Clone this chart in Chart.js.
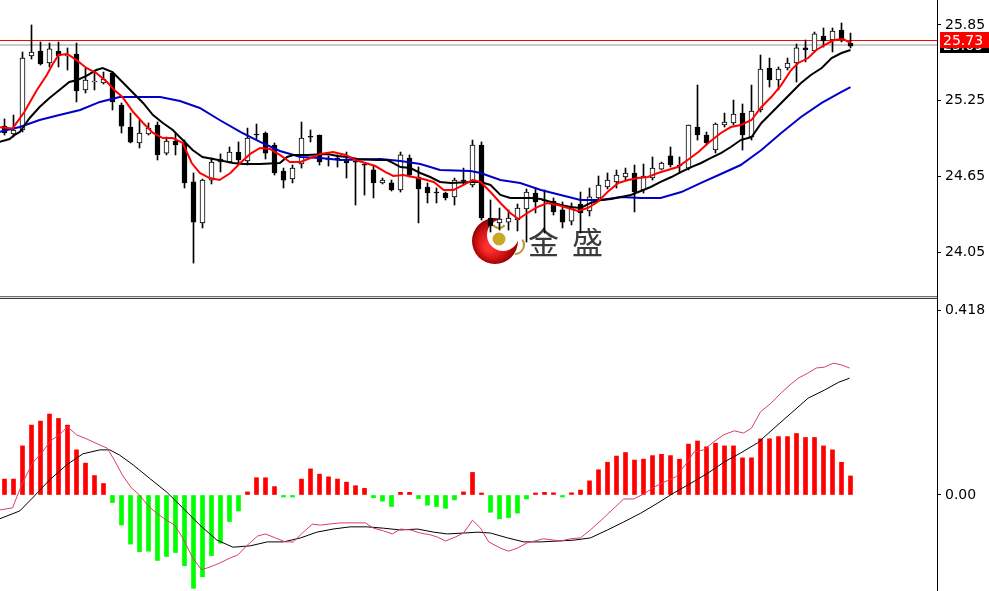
<!DOCTYPE html>
<html>
<head>
<meta charset="utf-8">
<script src="https://cdn.jsdelivr.net/npm/chart.js@4"></script>
<style>
  html, body { margin: 0; padding: 0; background: #fff; }
  #wrap { position: relative; width: 989px; height: 591px; overflow: hidden; background: #fff; }
  #priceCanvas { position: absolute; left: 0; top: 0; }
  #macdCanvas { position: absolute; left: 0; top: 299px; }
  #sep { position: absolute; left: 0; top: 296px; width: 937px; height: 3px; background: #d8d8d8; border-top: 1px solid #707070; border-bottom: 1px solid #404040; box-sizing: border-box; }
  #vline { position: absolute; left: 937px; top: 0; width: 1px; height: 591px; background: #000; }
</style>
</head>
<body>
<div id="wrap">
  <canvas id="priceCanvas" width="989" height="296"></canvas>
  <div id="sep"></div>
  <canvas id="macdCanvas" width="989" height="292"></canvas>
  <div id="vline"></div>
</div>
<script>
// --------------------
// Candles
// --------------------
const opens = [25.049,24.986,25.018,25.604,25.644,25.549,25.644,25.604,25.620,25.335,
  25.398,25.390,25.469,25.216,25.041,24.915,24.986,25.057,24.835,24.930,
  24.915,24.606,24.281,24.621,24.764,24.764,24.843,24.772,24.986,24.994,
  24.899,24.693,24.629,24.748,24.962,24.978,24.780,24.788,24.780,24.764,
  24.740,24.701,24.598,24.598,24.542,24.796,24.645,24.566,24.526,24.518,
  24.487,24.621,24.582,24.899,24.320,24.281,24.288,24.304,24.392,24.518,
  24.463,24.455,24.384,24.296,24.431,24.376,24.479,24.566,24.606,24.645,
  24.677,24.542,24.637,24.708,24.812,24.740,24.716,25.041,24.978,24.859,
  25.057,25.073,25.152,24.962,25.176,25.509,25.414,25.509,25.549,25.668,
  25.644,25.763,25.731,25.810,25.707];
const highs = [25.105,25.136,25.636,25.850,25.715,25.707,25.715,25.668,25.707,25.509,
  25.469,25.477,25.477,25.232,25.152,25.097,25.073,25.081,24.962,24.994,
  24.938,24.677,24.629,24.796,24.828,24.883,24.923,25.033,25.065,25.002,
  24.915,24.716,24.740,25.081,25.018,24.978,24.812,24.820,24.843,24.780,
  24.756,24.740,24.637,24.621,24.843,24.820,24.725,24.598,24.558,24.526,
  24.637,24.716,24.938,24.923,24.463,24.399,24.384,24.431,24.550,24.558,
  24.542,24.479,24.447,24.439,24.526,24.558,24.653,24.677,24.701,24.716,
  24.740,24.748,24.804,24.764,24.883,24.804,25.057,25.374,25.002,25.073,
  25.152,25.255,25.224,25.374,25.612,25.588,25.517,25.588,25.699,25.731,
  25.794,25.826,25.826,25.866,25.786];
const lows = [24.978,24.962,25.002,25.580,25.533,25.517,25.517,25.493,25.240,25.311,
  25.335,25.382,25.176,24.994,24.915,24.875,24.978,24.780,24.820,24.820,
  24.558,23.963,24.241,24.590,24.685,24.756,24.748,24.740,24.946,24.788,
  24.661,24.558,24.598,24.716,24.923,24.740,24.732,24.724,24.637,24.423,
  24.502,24.479,24.590,24.534,24.526,24.645,24.281,24.439,24.439,24.463,
  24.423,24.582,24.566,24.304,24.209,24.225,24.225,24.217,24.130,24.360,
  24.201,24.344,24.241,24.265,24.201,24.336,24.463,24.550,24.558,24.621,
  24.368,24.518,24.621,24.701,24.724,24.677,24.701,24.938,24.899,24.835,
  25.041,25.057,24.859,24.938,25.160,25.358,25.335,25.493,25.398,25.557,
  25.636,25.675,25.636,25.715,25.668];
const closes = [24.994,25.018,25.588,25.636,25.541,25.660,25.604,25.612,25.327,25.414,
  25.406,25.422,25.240,25.049,24.922,24.994,25.033,24.820,24.930,24.899,
  24.598,24.288,24.621,24.764,24.788,24.843,24.780,24.954,24.978,24.835,
  24.677,24.621,24.716,24.954,24.960,24.764,24.782,24.786,24.756,24.762,
  24.738,24.598,24.621,24.542,24.820,24.661,24.550,24.518,24.518,24.479,
  24.621,24.613,24.899,24.320,24.257,24.312,24.320,24.399,24.526,24.447,
  24.455,24.368,24.288,24.407,24.360,24.487,24.582,24.621,24.661,24.677,
  24.526,24.653,24.716,24.756,24.740,24.732,25.057,24.978,24.915,25.065,
  25.081,25.144,24.978,25.168,25.501,25.414,25.501,25.549,25.668,25.652,
  25.779,25.723,25.802,25.731,25.683];

// moving averages as [bar index, price]
const maRed = [[-0.56,25.04],[0.9,25.03],[1.3,25.07],[2.2,25.16],[3.6,25.335],[4.7,25.454],[5.3,25.533],[6,25.612],[7,25.62],[8,25.572],
  [9.1,25.509],[10.2,25.469],[11.4,25.398],[12.2,25.335],[13.1,25.279],[14.3,25.16],[15.4,25.073],[16.5,24.994],[17.6,24.954],[18.7,24.954],
  [19.8,24.915],[20.8,24.756],[21.7,24.677],[22.8,24.637],[23.9,24.621],[25.1,24.677],[26.2,24.756],[27.3,24.828],[28.4,24.875],[29.5,24.867],
  [30.6,24.82],[31.7,24.764],[32.9,24.764],[34,24.796],[35.1,24.828],[36.5,24.843],[37.9,24.82],[39,24.78],[40.1,24.756],[41.2,24.732],
  [42.3,24.685],[43.2,24.653],[44.3,24.661],[45.4,24.645],[46.5,24.629],[47.7,24.606],[48.8,24.542],[49.9,24.542],[51,24.582],[52,24.621],
  [52.9,24.606],[54,24.526],[55.1,24.439],[56.2,24.36],[57.1,24.312],[58.1,24.36],[59.2,24.407],[60.3,24.439],[61.5,24.423],[62.6,24.399],
  [63.7,24.376],[64.8,24.399],[65.9,24.447],[67,24.526],[68.2,24.598],[69.3,24.621],[70.4,24.637],[71.5,24.645],[72.6,24.677],[73.7,24.70],
  [74.8,24.724],[75.9,24.78],[77.1,24.843],[78.2,24.915],[79.6,24.994],[80.7,25.041],[81.8,25.057],[83,25.097],[84.1,25.2],[85.2,25.279],
  [86.3,25.374],[87.4,25.493],[88.2,25.549],[89.3,25.588],[90.2,25.652],[91.1,25.691],[92.2,25.731],[93.2,25.739],[94,25.707]];
const maBlack = [[-0.56,24.923],[0.56,24.946],[1.1,24.978],[1.7,25.002],[2.8,25.113],[3.9,25.2],[5,25.271],[6.1,25.335],[7.2,25.398],[8.1,25.414],
  [9.1,25.446],[10.2,25.493],[10.9,25.509],[12,25.477],[13.1,25.398],[14.3,25.311],[15.4,25.232],[16.5,25.136],[17.6,25.073],[18.7,25.018],
  [19.8,24.938],[20.9,24.859],[22,24.804],[23.2,24.788],[24.3,24.772],[25.4,24.756],[26.5,24.748],[28.4,24.748],[30.6,24.756],[31.4,24.804],
  [32.1,24.82],[33.6,24.82],[35.9,24.828],[37,24.812],[38.1,24.804],[39.2,24.788],[41.4,24.78],[42.5,24.78],[43.2,24.756],[44,24.724],
  [45.1,24.716],[46.2,24.677],[47.3,24.645],[48.4,24.606],[49.6,24.598],[51.8,24.606],[52.9,24.606],[54,24.582],[55.1,24.503],[56.2,24.479],
  [58.5,24.479],[59.6,24.471],[60.7,24.447],[61.8,24.423],[62.9,24.407],[64,24.399],[65.1,24.439],[66.3,24.463],[67.4,24.471],[68.5,24.487],
  [69.6,24.503],[70.7,24.534],[71.8,24.566],[72.9,24.606],[74.1,24.645],[75.2,24.685],[76.3,24.724],[77.4,24.756],[78.5,24.796],[79.6,24.835],
  [80.7,24.883],[81.8,24.938],[83,24.962],[84.1,25.073],[85.2,25.152],[86.3,25.232],[87.4,25.311],[88.5,25.39],[89.6,25.454],[90.8,25.509],
  [91.9,25.588],[93,25.628],[94,25.652]];
const maBlue = [[-0.56,25.002],[1.7,25.041],[3.9,25.097],[6.1,25.136],[8.4,25.176],[10.6,25.24],[12.8,25.279],[17.3,25.279],[19.5,25.247],[21.7,25.192],
  [23.9,25.097],[26.2,25.002],[28.4,24.923],[30.6,24.851],[32.9,24.804],[35.1,24.796],[37.3,24.78],[41.8,24.788],[44,24.772],[46.2,24.748],
  [48.4,24.70],[51.8,24.693],[52.9,24.677],[55.1,24.621],[57.3,24.598],[59.6,24.542],[61.8,24.503],[64,24.463],[66.3,24.463],[68.5,24.487],
  [70.7,24.479],[72.9,24.479],[75.2,24.526],[77.4,24.598],[79.6,24.669],[81.8,24.74],[84.1,24.859],[86.3,24.994],[88.5,25.121],[90.8,25.232],
  [93,25.319],[94,25.358]];

const priceTicks = [24.05, 24.65, 25.25, 25.85];
const lastPrice = 25.73;
const askPrice = 25.69;

// --------------------
// MACD panel
// --------------------
const macdHist = [0.036,0.036,0.111,0.158,0.167,0.183,0.173,0.158,0.102,0.072,
  0.044,0.026,-0.017,-0.068,-0.111,-0.128,-0.127,-0.148,-0.139,-0.130,
  -0.160,-0.211,-0.185,-0.137,-0.109,-0.060,-0.036,0.007,0.039,0.039,
  0.019,-0.002,-0.002,0.036,0.059,0.047,0.041,0.036,0.029,0.021,
  0.015,-0.006,-0.014,-0.026,0.006,0.006,-0.008,-0.023,-0.026,-0.030,
  -0.011,0.007,0.051,0.004,-0.039,-0.054,-0.051,-0.041,-0.009,0.004,
  0.006,0.005,-0.003,0.005,0.011,0.032,0.057,0.074,0.088,0.096,
  0.079,0.081,0.089,0.092,0.089,0.081,0.115,0.122,0.109,0.117,
  0.111,0.111,0.084,0.084,0.127,0.127,0.132,0.132,0.139,0.130,
  0.130,0.111,0.102,0.074,0.043];
const macdMain = [[-0.56,-0.034],[0.9,-0.029],[1.45,0],[2,0.027],[3.1,0.072],[4.2,0.097],[5.2,0.124],[6.1,0.136],[7,0.154],[8,0.136],
  [9.1,0.127],[10.6,0.113],[11.4,0.106],[12.2,0.079],[13.1,0.045],[14.1,0.016],[15,0],[15.9,-0.023],[16.9,-0.041],[18,-0.057],
  [18.9,-0.068],[19.8,-0.097],[20.9,-0.142],[21.9,-0.169],[22.8,-0.163],[23.9,-0.154],[25.1,-0.142],[25.9,-0.136],[26.9,-0.115],[28.1,-0.093],
  [29,-0.088],[30.1,-0.097],[31.2,-0.106],[32.1,-0.106],[33.1,-0.086],[34.2,-0.066],[35.1,-0.068],[37.3,-0.063],[40.1,-0.063],[41,-0.075],
  [42.1,-0.081],[43.1,-0.088],[44,-0.077],[45.1,-0.079],[46.2,-0.086],[47.3,-0.09],[48.1,-0.095],[49,-0.104],[50.1,-0.095],[51,-0.086],
  [52,-0.057],[52.9,-0.075],[53.8,-0.106],[55.1,-0.12],[56,-0.127],[57,-0.12],[58.1,-0.108],[59.9,-0.099],[61.8,-0.104],[62.9,-0.099],
  [64,-0.097],[65.1,-0.079],[66.3,-0.057],[67.4,-0.036],[68.8,-0.009],[69.9,-0.009],[71,0.002],[72.2,0.018],[73.3,0.029],[74.6,0.041],
  [75.9,0.075],[76.6,0.097],[77.7,0.102],[78.8,0.12],[79.9,0.136],[81.1,0.145],[82.1,0.14],[83,0.151],[84,0.188],[85.2,0.208],
  [86.3,0.231],[87.4,0.251],[88.2,0.264],[89.3,0.276],[90.2,0.287],[91.1,0.289],[92.1,0.298],[93,0.294],[93.9,0.287]];
const macdSignal = [[-0.56,-0.054],[1.7,-0.036],[3.1,-0.007],[5,0.034],[6.9,0.068],[8.7,0.093],[10.6,0.102],[11.7,0.102],[12.8,0.09],[14.3,0.068],
  [16.1,0.038],[18,0.007],[19.8,-0.029],[21.7,-0.068],[23.6,-0.102],[25.4,-0.118],[27.3,-0.115],[29.2,-0.106],[31,-0.106],[32.9,-0.097],
  [34.7,-0.084],[36.5,-0.077],[38.4,-0.072],[40.3,-0.072],[42.1,-0.075],[44,-0.079],[45.9,-0.077],[47.7,-0.084],[49.2,-0.088],[51,-0.086],
  [52.6,-0.084],[54,-0.086],[55.9,-0.097],[57.7,-0.106],[59.6,-0.106],[61.5,-0.104],[63.3,-0.102],[65.1,-0.097],[67,-0.079],[68.8,-0.061],
  [70.7,-0.041],[72.6,-0.018],[74.4,0.005],[76.3,0.027],[78.2,0.05],[80,0.075],[81.8,0.095],[83.7,0.118],[85.5,0.151],[87.4,0.185],
  [89.3,0.219],[91.1,0.237],[92.7,0.255],[93.9,0.264]];
const macdTicks = [0, 0.418];

// --------------------
// Shared layout
// --------------------
const X_MIN = -0.5;
const X_MAX = -0.5 + 937 / 9;
const AXIS_W = 52;
const FONT = { family: 'DejaVu Sans', size: 14 };

const toXY = pairs => pairs.map(([x, y]) => ({ x, y }));

function rightAxis(min, max, ticks, fmt) {
  return {
    position: 'right', min, max,
    afterBuildTicks: axis => { axis.ticks = ticks.map(v => ({ value: v })); },
    afterFit: axis => {
      axis.width = AXIS_W;
      // no extra room for half labels: the plot must fill the panel
      axis.paddingTop = 0;
      axis.paddingBottom = 0;
    },
    border: { display: false },
    grid: { display: true, drawOnChartArea: false, drawTicks: true, tickLength: 4, color: '#000' },
    ticks: { autoSkip: false, padding: 4, color: '#000', font: FONT, callback: fmt }
  };
}

const xAxis = { type: 'linear', min: X_MIN, max: X_MAX, offset: false, display: false, grid: { offset: false } };

// --------------------
// Plugins: price lines, price label, watermark
// --------------------
const priceLines = {
  id: 'priceLines',
  beforeDatasetsDraw(chart) {
    const { ctx, chartArea } = chart;
    const y = chart.scales.y;
    // watermark logo
    ctx.save();
    const cx = 495, cy = 241;
    const g = ctx.createRadialGradient(cx - 6, cy + 6, 4, cx, cy, 24);
    g.addColorStop(0, '#ff3030');
    g.addColorStop(0.6, '#d01010');
    g.addColorStop(1, '#8a0000');
    ctx.fillStyle = g;
    ctx.beginPath(); ctx.arc(cx, cy, 23, 0, Math.PI * 2); ctx.fill();
    ctx.fillStyle = '#fff';
    ctx.beginPath(); ctx.arc(cx + 8, cy - 6, 16, 0, Math.PI * 2); ctx.fill();
    ctx.fillStyle = '#c9a824';
    ctx.beginPath(); ctx.arc(cx + 4, cy - 2, 6.5, 0, Math.PI * 2); ctx.fill();
    ctx.strokeStyle = '#b89830'; ctx.lineWidth = 2;
    ctx.beginPath(); ctx.arc(cx + 4, cy - 20, 7, 0.2 * Math.PI, 0.8 * Math.PI); ctx.stroke();
    ctx.beginPath(); ctx.arc(cx + 20, cy + 4, 9, -0.2 * Math.PI, 0.5 * Math.PI); ctx.stroke();
    ctx.fillStyle = '#3a3a3a';
    ctx.font = '31px "Noto Sans CJK SC"';
    ctx.textBaseline = 'middle';
    ctx.fillText('金', 528, 242);
    ctx.fillText('盛', 572, 242);
    ctx.restore();

    // horizontal price lines
    ctx.save();
    const ya = Math.round(y.getPixelForValue(askPrice));
    ctx.fillStyle = '#c8c8c8';
    ctx.fillRect(chartArea.left, ya - 1, chartArea.right - chartArea.left, 2);
    const yl = Math.round(y.getPixelForValue(lastPrice));
    ctx.fillStyle = '#ff0000';
    ctx.fillRect(chartArea.left, yl, chartArea.right - chartArea.left, 1);
    ctx.restore();
  },
  afterDraw(chart) {
    const { ctx, chartArea } = chart;
    const y = chart.scales.y;
    const x0 = chartArea.right + 3;
    ctx.save();
    ctx.font = '14px "DejaVu Sans"';
    ctx.textBaseline = 'middle';
    const ya = Math.round(y.getPixelForValue(askPrice));
    ctx.fillStyle = '#000';
    ctx.fillRect(x0, ya - 8, 989 - x0, 16);
    ctx.fillStyle = '#fff';
    ctx.fillText(askPrice.toFixed(2), x0 + 3, ya + 1);
    const yl = Math.round(y.getPixelForValue(lastPrice));
    ctx.fillStyle = '#ff0000';
    ctx.fillRect(x0, yl - 8, 989 - x0, 16);
    ctx.fillStyle = '#fff';
    ctx.fillText(lastPrice.toFixed(2), x0 + 3, yl + 1);
    ctx.restore();
  }
};

// --------------------
// Price chart
// --------------------
const bodyColors = closes.map((c, i) => (c >= opens[i] ? '#ffffff' : '#000000'));

new Chart(document.getElementById('priceCanvas'), {
  type: 'bar',
  data: {
    datasets: [
      { type: 'line', data: toXY(maRed), borderColor: '#ff0000', borderWidth: 2, pointRadius: 0, order: 0 },
      { type: 'line', data: toXY(maBlack), borderColor: '#000000', borderWidth: 2, pointRadius: 0, order: 0 },
      { type: 'line', data: toXY(maBlue), borderColor: '#0000c8', borderWidth: 2, pointRadius: 0, order: 0 },
      { type: 'bar', data: closes.map((c, i) => ({ x: i, y: [opens[i], c] })), backgroundColor: bodyColors,
        borderColor: '#000', borderWidth: 1, borderSkipped: false, barThickness: 5, minBarLength: 1, grouped: false, order: 1 },
      { type: 'bar', data: highs.map((h, i) => ({ x: i, y: [lows[i], h] })), backgroundColor: '#000',
        barThickness: 1, grouped: false, order: 2 }
    ]
  },
  options: {
    responsive: false, animation: false, devicePixelRatio: 1,
    layout: { padding: 0 },
    plugins: { legend: { display: false }, tooltip: { enabled: false } },
    scales: {
      x: xAxis,
      y: rightAxis(23.702, 26.048, priceTicks, v => Number(v).toFixed(2))
    }
  },
  plugins: [priceLines]
});

// --------------------
// MACD chart
// --------------------
new Chart(document.getElementById('macdCanvas'), {
  type: 'bar',
  data: {
    datasets: [
      { type: 'line', data: toXY(macdMain), borderColor: '#dc3c6a', borderWidth: 1, pointRadius: 0, order: 0 },
      { type: 'line', data: toXY(macdSignal), borderColor: '#000000', borderWidth: 1, pointRadius: 0, order: 0 },
      { type: 'bar', data: macdHist.map((v, i) => ({ x: i, y: v })),
        backgroundColor: macdHist.map(v => (v >= 0 ? '#ff0000' : '#00ff00')),
        barThickness: 4, minBarLength: 2, grouped: false, order: 1 }
    ]
  },
  options: {
    responsive: false, animation: false, devicePixelRatio: 1,
    layout: { padding: 0 },
    plugins: { legend: { display: false }, tooltip: { enabled: false } },
    scales: {
      x: xAxis,
      y: rightAxis(-0.217, 0.443, macdTicks, v => (v === 0 ? '0.00' : Number(v).toFixed(3)))
    }
  }
});
</script>
</body>
</html>
